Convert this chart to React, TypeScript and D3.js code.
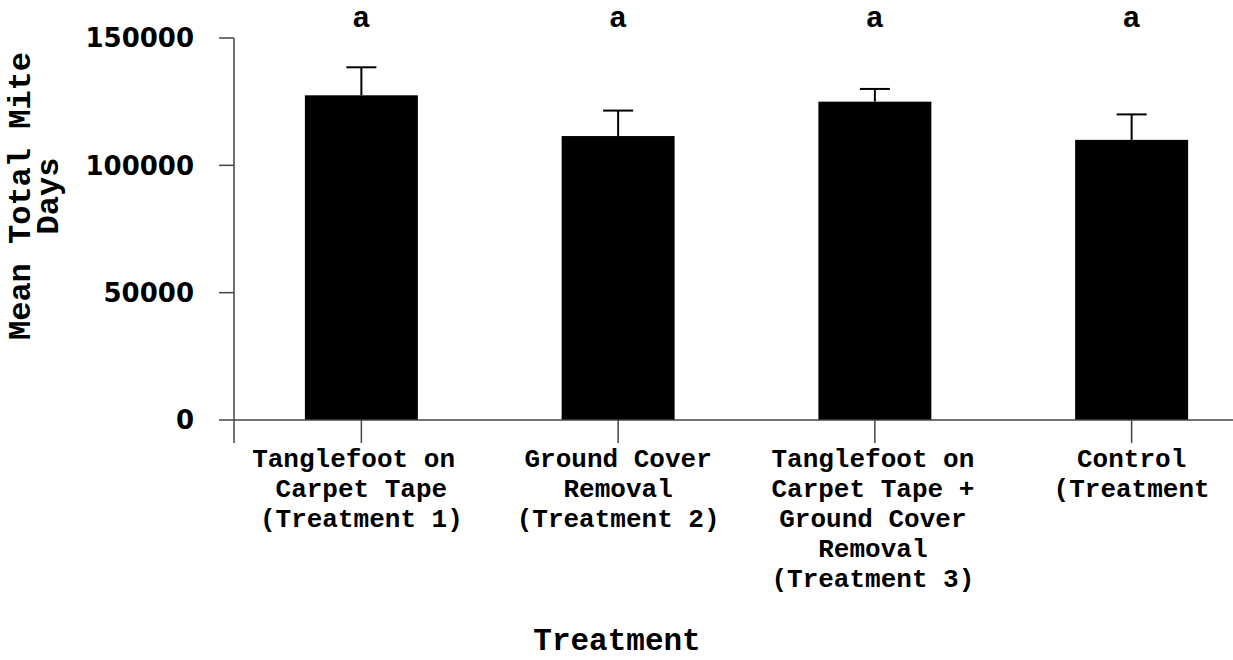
import React, { useEffect, useRef } from 'react';
import * as d3 from 'd3';

// data
const categories = ['t1', 't2', 't3', 'ctrl'];
const categoryLabels = [
	['Tanglefoot on\u00a0', 'Carpet Tape', '(Treatment 1)'],
	['Ground Cover', 'Removal', '(Treatment 2)'],
	['Tanglefoot on', 'Carpet Tape +', 'Ground Cover', 'Removal', '(Treatment 3)'],
	['Control', '(Treatment'],
];
const means = [127500, 111500, 125000, 110000];
const errors = [11000, 10000, 5000, 10000];
const letters = ['a', 'a', 'a', 'a'];
const yTicks = [0, 50000, 100000, 150000];

const W = 1233;
const H = 660;
const MONO = '"Liberation Mono", "Courier New", monospace';
const SANS = '"DejaVu Sans", sans-serif';

const draw = (node: SVGSVGElement) => {
	const svg = d3.select(node);
	svg.selectAll('*').remove();

	const axisX = 234;
	const y = d3.scaleLinear().domain([0, 150000]).range([420, 38]);
	const x = d3.scaleBand().domain(categories).range([233, 1260]).paddingInner(0.56).paddingOuter(0.28);
	const cx = (c: string) => (x(c) as number) + x.bandwidth() / 2;

	// bars
	svg.append('g').selectAll('rect').data(categories).join('rect')
		.attr('x', (d) => x(d) as number)
		.attr('width', x.bandwidth())
		.attr('y', (d, i) => y(means[i]))
		.attr('height', (d, i) => y(0) - y(means[i]))
		.attr('fill', '#000');

	// error bars (upper only)
	const eb = svg.append('g').attr('stroke', '#000').attr('stroke-width', 2);
	categories.forEach((c, i) => {
		eb.append('line').attr('x1', cx(c)).attr('x2', cx(c))
			.attr('y1', y(means[i])).attr('y2', y(means[i] + errors[i]));
		eb.append('line').attr('x1', cx(c) - 15).attr('x2', cx(c) + 15)
			.attr('y1', y(means[i] + errors[i])).attr('y2', y(means[i] + errors[i]));
	});

	// axes
	const ax = svg.append('g').attr('stroke', '#444').attr('stroke-width', 1.5);
	ax.append('line').attr('x1', axisX).attr('x2', axisX).attr('y1', y(150000)).attr('y2', 443);
	ax.append('line').attr('x1', axisX).attr('x2', W).attr('y1', y(0)).attr('y2', y(0));
	yTicks.forEach((t) => {
		ax.append('line').attr('x1', axisX - 15).attr('x2', axisX).attr('y1', y(t)).attr('y2', y(t));
	});
	categories.forEach((c) => {
		ax.append('line').attr('x1', cx(c)).attr('x2', cx(c)).attr('y1', y(0)).attr('y2', 443);
	});

	// y tick labels
	svg.append('g').selectAll('text').data(yTicks).join('text')
		.attr('x', 194)
		.attr('y', (d) => y(d))
		.attr('dy', '0.36em')
		.attr('text-anchor', 'end')
		.attr('font-family', SANS)
		.attr('font-weight', 'bold')
		.attr('font-size', '26px')
		.text((d) => String(d));

	// category labels
	categories.forEach((c, i) => {
		const t = svg.append('text')
			.attr('text-anchor', 'middle')
			.attr('font-family', MONO)
			.attr('font-weight', 'bold')
			.attr('font-size', '26px');
		categoryLabels[i].forEach((line, j) => {
			t.append('tspan').attr('x', cx(c) - (i === 2 ? 2 : 0)).attr('y', 467 + j * 30).text(line);
		});
	});

	// significance letters
	svg.append('g').selectAll('text').data(categories).join('text')
		.attr('x', (d) => cx(d))
		.attr('y', 27)
		.attr('text-anchor', 'middle')
		.attr('font-family', MONO)
		.attr('font-weight', 'bold')
		.attr('font-size', '30px')
		.text((d, i) => letters[i]);

	// axis titles
	const yt = svg.append('text')
		.attr('transform', 'translate(30,196) rotate(-90)')
		.attr('text-anchor', 'middle')
		.attr('font-family', MONO)
		.attr('font-weight', 'bold')
		.attr('font-size', '32px');
	yt.append('tspan').attr('x', 0).attr('y', 0).text('Mean Total Mite');
	yt.append('tspan').attr('x', 0).attr('y', 28).text('Days');

	svg.append('text')
		.attr('x', 617)
		.attr('y', 650)
		.attr('text-anchor', 'middle')
		.attr('font-family', MONO)
		.attr('font-weight', 'bold')
		.attr('font-size', '31px')
		.text('Treatment');
};

export default function App() {
	const ref = useRef<SVGSVGElement>(null);
	useEffect(() => {
		document.body.style.margin = '0';
		if (ref.current) draw(ref.current);
	}, []);
	return <svg ref={ref} width={W} height={H} style={{ display: 'block', background: '#fff' }} />;
}
